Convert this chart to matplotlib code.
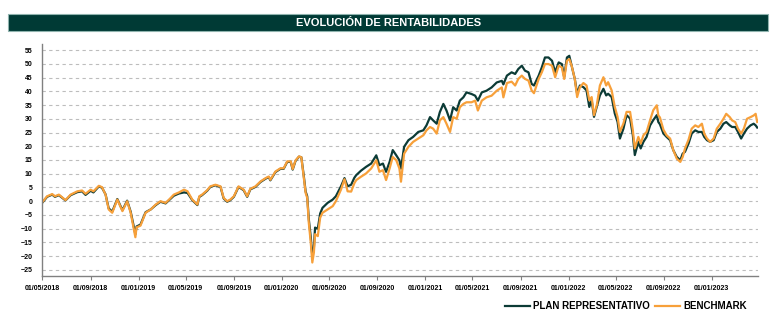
import pandas as pd
import matplotlib
matplotlib.use('Agg')
import matplotlib.pyplot as plt
import matplotlib.dates as mdates
from matplotlib.patches import Rectangle

plt.rcParams['font.family'] = ['Liberation Sans', 'DejaVu Sans']
plt.rcParams['font.weight'] = 'bold'

# rentabilidad acumulada (%) desde 01/05/2018
fechas = [
    '2018-05-01', '2018-05-13', '2018-05-26', '2018-06-02', '2018-06-12', '2018-06-29',
    '2018-07-12', '2018-07-29', '2018-08-10', '2018-08-19', '2018-09-01', '2018-09-08',
    '2018-09-22', '2018-09-30', '2018-10-09', '2018-10-17', '2018-10-26', '2018-11-08',
    '2018-11-21', '2018-12-03', '2018-12-12', '2018-12-24', '2018-12-27', '2019-01-06',
    '2019-01-19', '2019-02-01', '2019-02-14', '2019-02-26', '2019-03-11', '2019-03-20',
    '2019-04-01', '2019-04-14', '2019-04-27', '2019-05-06', '2019-05-18', '2019-05-31',
    '2019-06-05', '2019-06-12', '2019-06-25', '2019-07-03', '2019-07-16', '2019-07-29',
    '2019-08-06', '2019-08-15', '2019-08-23', '2019-09-01', '2019-09-13', '2019-09-26',
    '2019-10-05', '2019-10-13', '2019-10-26', '2019-11-08', '2019-11-21', '2019-11-29',
    '2019-12-03', '2019-12-16', '2019-12-29', '2020-01-06', '2020-01-15', '2020-01-24',
    '2020-01-29', '2020-02-05', '2020-02-14', '2020-02-20', '2020-02-26', '2020-03-02',
    '2020-03-06', '2020-03-10', '2020-03-15', '2020-03-19', '2020-03-23', '2020-03-26',
    '2020-04-02', '2020-04-08', '2020-04-14', '2020-04-27', '2020-05-10', '2020-05-18',
    '2020-05-31', '2020-06-09', '2020-06-17', '2020-06-26', '2020-07-04', '2020-07-09',
    '2020-07-21', '2020-08-03', '2020-08-16', '2020-08-29', '2020-09-06', '2020-09-15',
    '2020-09-23', '2020-10-02', '2020-10-10', '2020-10-19', '2020-10-27', '2020-10-31',
    '2020-11-08', '2020-11-19', '2020-12-01', '2020-12-14', '2020-12-27', '2021-01-04',
    '2021-01-13', '2021-01-21', '2021-01-30', '2021-02-07', '2021-02-16', '2021-02-24',
    '2021-03-05', '2021-03-13', '2021-03-22', '2021-03-30', '2021-04-08', '2021-04-16',
    '2021-04-29', '2021-05-08', '2021-05-15', '2021-05-25', '2021-06-06', '2021-06-19',
    '2021-07-02', '2021-07-15', '2021-07-19', '2021-07-28', '2021-08-09', '2021-08-18',
    '2021-08-26', '2021-09-04', '2021-09-12', '2021-09-21', '2021-09-29', '2021-10-05',
    '2021-10-17', '2021-10-25', '2021-11-02', '2021-11-11', '2021-11-20', '2021-11-28',
    '2021-12-07', '2021-12-15', '2021-12-21', '2021-12-28', '2022-01-03', '2022-01-09',
    '2022-01-17', '2022-01-23', '2022-01-30', '2022-02-08', '2022-02-16', '2022-02-23',
    '2022-03-01', '2022-03-07', '2022-03-14', '2022-03-22', '2022-03-31', '2022-04-07',
    '2022-04-12', '2022-04-21', '2022-04-29', '2022-05-06', '2022-05-12', '2022-05-21',
    '2022-05-29', '2022-06-07', '2022-06-14', '2022-06-19', '2022-06-28', '2022-07-04',
    '2022-07-11', '2022-07-19', '2022-07-28', '2022-08-05', '2022-08-14', '2022-08-18',
    '2022-08-22', '2022-08-31', '2022-09-08', '2022-09-17', '2022-09-25', '2022-10-04',
    '2022-10-13', '2022-10-19', '2022-10-25', '2022-11-03', '2022-11-11', '2022-11-20',
    '2022-11-28', '2022-12-07', '2022-12-13', '2022-12-20', '2022-12-28', '2023-01-06',
    '2023-01-14', '2023-01-23', '2023-01-31', '2023-02-07', '2023-02-16', '2023-02-22',
    '2023-03-02', '2023-03-09', '2023-03-17', '2023-03-24', '2023-04-01', '2023-04-10',
    '2023-04-18', '2023-04-23', '2023-04-27',
]

plan = [
    -0.5, 1.6, 2.4, 1.6, 2.2, 0.3,
    2.2, 3.3, 3.6, 2.3, 3.8, 3.2,
    5.4, 4.9, 2.5, -2.6, -3.8, 0.8,
    -3.3, 0.2, -3.8, -12.0, -9.2, -8.5,
    -4.0, -3.0, -1.4, -0.2, -0.8, 0.4,
    2.0, 2.8, 3.2, 3.0, 0.4, -1.4,
    1.6, 2.2, 3.8, 5.2, 5.8, 5.2,
    1.0, -0.2, 0.4, 1.6, 5.2, 4.0,
    1.6, 4.3, 5.2, 7.0, 8.2, 8.8,
    7.6, 10.6, 11.8, 11.8, 14.3, 14.3,
    11.5, 14.6, 16.2, 16.0, 9.5, 3.5,
    1.8, -6.5, -13.0, -20.0, -17.0, -9.6,
    -10.0, -4.5, -2.4, -0.6, 0.6, 1.8,
    5.4, 8.4, 5.4, 6.0, 8.5, 9.5,
    11.1, 12.5, 13.7, 16.7, 13.1, 13.7,
    10.7, 14.3, 18.6, 16.7, 14.9, 11.9,
    19.8, 22.2, 23.4, 25.2, 25.8, 27.6,
    30.6, 29.4, 28.2, 32.4, 35.4, 33.0,
    29.4, 34.2, 33.0, 36.6, 37.8, 39.6,
    39.0, 38.4, 36.6, 39.6, 40.2, 41.4,
    43.2, 43.8, 42.5, 45.7, 46.9, 46.3,
    48.1, 49.3, 47.5, 46.9, 42.7, 42.1,
    45.7, 48.7, 52.3, 52.3, 51.1, 46.9,
    50.5, 49.9, 45.1, 52.3, 52.9, 49.3,
    44.5, 39.1, 42.1, 41.5, 40.3, 34.3,
    36.7, 30.7, 34.3, 38.5, 40.9, 38.5,
    39.1, 37.9, 31.9, 28.9, 22.8, 26.4,
    31.3, 30.1, 24.0, 16.8, 21.6, 19.2,
    21.6, 23.4, 27.6, 29.5, 31.3, 28.8,
    28.0, 24.6, 23.4, 22.2, 18.6, 16.1,
    14.9, 17.3, 18.0, 21.0, 24.6, 25.8,
    25.2, 25.2, 23.4, 22.2, 21.6, 22.2,
    25.2, 26.4, 28.2, 28.8, 27.6, 27.0,
    27.0, 25.2, 22.8, 24.6, 26.4, 27.6,
    28.2, 27.6, 26.8,
]

benchmark = [
    -0.3, 1.8, 2.6, 1.8, 2.4, 0.4,
    2.4, 3.6, 3.9, 2.7, 4.2, 3.6,
    5.6, 5.1, 2.4, -3.0, -4.2, 0.6,
    -3.6, 0.0, -4.2, -13.1, -9.5, -8.9,
    -4.2, -3.0, -1.2, 0.0, -0.6, 0.6,
    2.4, 3.2, 4.2, 3.6, 0.6, -1.2,
    1.8, 2.4, 4.0, 5.4, 6.0, 5.4,
    1.2, 0.0, 0.6, 1.8, 5.4, 4.2,
    1.8, 4.5, 5.4, 7.2, 8.4, 9.0,
    7.8, 10.8, 12.0, 12.0, 14.5, 14.5,
    11.7, 14.8, 16.3, 16.0, 9.0, 3.0,
    1.2, -7.8, -15.0, -22.3, -18.7, -12.0,
    -12.7, -6.0, -4.2, -3.0, -1.8, 0.0,
    4.2, 8.0, 3.6, 3.5, 6.5, 7.7,
    8.9, 10.1, 11.9, 14.9, 10.7, 11.3,
    7.7, 11.9, 16.1, 14.9, 11.9, 7.1,
    17.3, 19.8, 21.6, 22.8, 24.0, 25.8,
    27.0, 26.4, 24.6, 29.4, 30.6, 28.2,
    25.2, 30.6, 30.0, 34.2, 35.4, 36.0,
    36.0, 36.6, 33.0, 36.6, 37.8, 38.4,
    40.2, 41.4, 37.8, 43.0, 43.5, 42.1,
    44.5, 45.7, 44.5, 43.9, 40.3, 39.3,
    44.5, 46.9, 49.9, 49.9, 49.3, 45.1,
    49.3, 48.7, 44.5, 51.1, 51.7, 49.3,
    44.5, 37.9, 41.5, 43.0, 42.1, 36.7,
    37.9, 31.3, 34.9, 42.1, 45.1, 42.1,
    43.3, 40.3, 34.3, 30.7, 25.2, 28.3,
    32.5, 32.5, 25.8, 19.2, 23.4, 21.0,
    24.0, 25.2, 29.5, 33.1, 34.9, 31.2,
    30.5, 26.0, 24.0, 22.8, 18.6, 15.5,
    14.3, 16.1, 19.2, 22.4, 26.4, 27.6,
    27.0, 28.2, 24.6, 22.8, 21.6, 22.8,
    26.4, 28.2, 30.0, 31.8, 30.6, 29.4,
    28.8, 26.4, 24.6, 26.4, 30.0, 30.6,
    31.2, 31.8, 28.8,
]

yticks = list(range(-25, 60, 5))

verde = '#0c3b36'
naranja = '#f7a03a'

x = pd.to_datetime(fechas)

fig = plt.figure(figsize=(7.81, 3.25), dpi=100)
ax = fig.add_axes([42 / 781, 1 - 275.7 / 325, 716 / 781, 231.7 / 325])

# barra de titulo
fig.patches.append(Rectangle((8 / 781, 1 - 31 / 325), 760 / 781, 17 / 325,
                             transform=fig.transFigure, facecolor='#003a35',
                             edgecolor='#8fb3ae', linewidth=0.8))
fig.text(0.497, 1 - 22.5 / 325, 'EVOLUCIÓN DE RENTABILIDADES', color='white',
         fontsize=8, fontweight='bold', ha='center', va='center')

ax.plot(x, plan, color=verde, lw=1.6, label='PLAN REPRESENTATIVO')
ax.plot(x, benchmark, color=naranja, lw=1.6, label='BENCHMARK')

ax.set_ylim(-27.1, 57.2)
ax.set_xlim(pd.Timestamp('2018-04-30'), pd.Timestamp('2023-04-29'))
ax.set_yticks(yticks)
ax.xaxis.set_major_locator(mdates.MonthLocator(bymonth=[1, 5, 9]))
ax.xaxis.set_major_formatter(mdates.DateFormatter('%d/%m/%Y'))

ax.set_axisbelow(True)
ax.grid(axis='y', color='#bdbdbd', lw=0.8, linestyle=(0, (3, 3)))
for s in ['top', 'right']:
    ax.spines[s].set_visible(False)
for s in ['left', 'bottom']:
    ax.spines[s].set_color('#808080')
    ax.spines[s].set_linewidth(1)

ax.tick_params(axis='y', length=0, pad=7, labelsize=5)
ax.tick_params(axis='x', length=3, width=0.8, color='#808080', pad=4, labelsize=5)
for lab in ax.get_xticklabels() + ax.get_yticklabels():
    lab.set_fontweight('bold')

fig.legend(loc='center left', bbox_to_anchor=(505 / 781, 1 - 306 / 325),
           frameon=False, ncol=2, handlelength=2.6,
           handletextpad=0.3, columnspacing=0.5, borderpad=0, borderaxespad=0,
           prop={'weight': 'bold', 'size': 7})

fig.savefig('out.png', dpi=100)
